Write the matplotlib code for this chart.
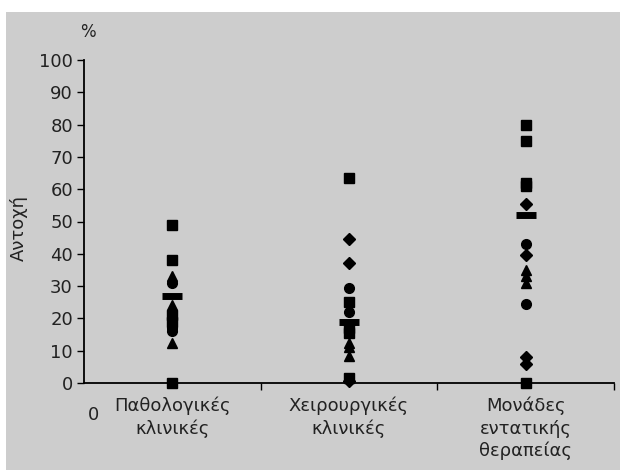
import numpy as np
import matplotlib.pyplot as plt
from matplotlib.patches import Rectangle

# Data
categories = ["Παθολογικές\nκλινικές", "Χειρουργικές\nκλινικές", "Μονάδες\nεντατικής\nθεραπείας"]
squares = [[49, 38, 21, 19, 0], [63.5, 25, 17, 15.5, 1.5], [80, 75, 62, 61, 0]]
diamonds = [[], [44.5, 37, 0.5], [55.5, 39.5, 8, 6]]
circles = [[31, 17, 16], [29.5, 22], [43, 24.5]]
triangles = [[33, 24, 12.5], [12.5, 11, 8.5], [35, 33, 31]]
medians = [27, 19, 52]
yticks = [0, 10, 20, 30, 40, 50, 60, 70, 80, 90, 100]

fig = plt.figure(figsize=(6.26, 4.76), dpi=100)
fig.patch.set_facecolor("white")
fig.patches.append(Rectangle((6 / 626, 6 / 476), 614 / 626, 458 / 476,
                             transform=fig.transFigure, facecolor="#cdcdcd",
                             edgecolor="none", zorder=-10))

ax = fig.add_axes([84 / 626, 93 / 476, 530 / 626, 323 / 476])
ax.set_facecolor("none")

pos = [0.5, 1.5, 2.5]
for i, xc in enumerate(pos):
    ax.plot([xc] * len(squares[i]), squares[i], ls="none", marker="s", ms=6.5, color="black", clip_on=False, zorder=3)
    ax.plot([xc] * len(diamonds[i]), diamonds[i], ls="none", marker="D", ms=6, color="black", clip_on=False, zorder=3)
    ax.plot([xc] * len(circles[i]), circles[i], ls="none", marker="o", ms=7, color="black", clip_on=False, zorder=3)
    ax.plot([xc] * len(triangles[i]), triangles[i], ls="none", marker="^", ms=7, color="black", clip_on=False, zorder=3)
    ax.plot([xc], [medians[i]], ls="none", marker="_", ms=14, mew=5, color="black", zorder=4)

ax.set_xlim(0, 3)
ax.set_ylim(0, 100)
for s in ["top", "right"]:
    ax.spines[s].set_visible(False)
ax.spines["left"].set_linewidth(1.3)
ax.spines["bottom"].set_linewidth(1.3)

ax.set_yticks(yticks)
ax.tick_params(axis="y", direction="out", length=5, width=1, labelsize=13, pad=3, labelcolor="#222222")
ax.set_xticks([1, 2, 3])
ax.set_xticklabels([])
ax.tick_params(axis="x", which="major", direction="out", length=5, width=1)
ax.set_xticks(pos, minor=True)
ax.set_xticklabels(categories, minor=True, fontsize=13, linespacing=1.3, color="#222222")
ax.tick_params(axis="x", which="minor", length=0, pad=10)

ax.text(0.02, -7, "0", fontsize=13, ha="left", va="top", color="#222222")
ax.text(0.02, 106, "%", fontsize=12, ha="center", va="bottom", color="#222222")
ax.set_ylabel("Αντοχή", fontsize=13, color="#222222")
ax.yaxis.set_label_coords(-0.105, 0.48)

fig.savefig("out.png", dpi=100)
